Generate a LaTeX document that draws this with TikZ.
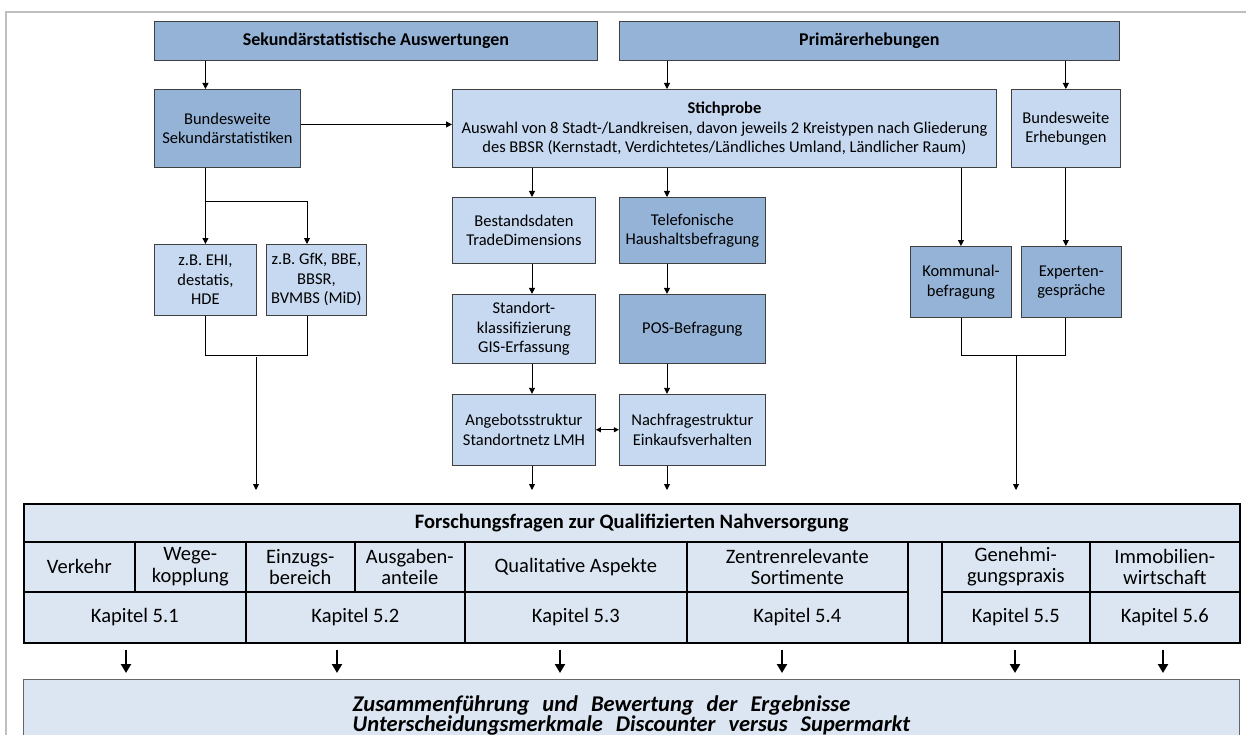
\documentclass[tikz,border=0pt]{standalone}
\usepackage{fontspec}
\setmainfont{Carlito}
\usepackage{xcolor}
\usetikzlibrary{arrows.meta,positioning}

\definecolor{bluedark}{HTML}{95B3D7}
\definecolor{bluelight}{HTML}{C6D9F1}
\definecolor{bluepale}{HTML}{DCE6F2}

\begin{document}
\begin{tikzpicture}[x=1pt, y=-1pt,
  box/.style={rectangle, draw=black!75, line width=0.9pt, anchor=north west, inner sep=1.5pt, align=center, font=\fontsize{16.5}{19.5}\selectfont},
  darkbox/.style={box, fill=bluedark},
  lightbox/.style={box, fill=bluelight},
  head/.style={darkbox, font=\fontsize{18}{21}\selectfont\bfseries},
  cell/.style={rectangle, draw=black, line width=1.6pt, fill=bluepale, anchor=north west, inner sep=1pt, align=center, font=\fontsize{20.5}{21.5}\selectfont},
  arrow/.style={-{Triangle[length=6pt, width=6pt]}, line width=0.9pt, color=black},
  twoway/.style={{Triangle[length=5pt, width=5pt]}-{Triangle[length=5pt, width=5pt]}, line width=0.9pt, color=black},
  link/.style={line width=0.9pt, color=black},
  bigarrow/.style={-{Triangle[length=9pt, width=10pt]}, line width=2.2pt, color=black}
]
\path[use as bounding box, clip] (0,0) rectangle (1246,735);

% Frame
\draw[black!25, line width=1.2pt] (6,740) -- (6,12) -- (1250,12);

% Tier 1: Sources
\node[head, minimum width=443, minimum height=39] (sek) at (154,21) {Sekundärstatistische Auswertungen};
\node[head, minimum width=500, minimum height=39, right=21pt of sek] (prim) {Primärerhebungen};

% Tier 2: Statistics, sample, surveys
\node[darkbox, minimum width=146, minimum height=78] (bsek) at (154,89) {Bundesweite\\Sekundärstatistiken};
\node[lightbox, minimum width=544, minimum height=78] (stich) at (452,89) {\textbf{Stichprobe}\\Auswahl von 8 Stadt-/Landkreisen, davon jeweils 2 Kreistypen nach Gliederung\\des BBSR (Kernstadt, Verdichtetes/Ländliches Umland, Ländlicher Raum)};
\node[lightbox, minimum width=109, minimum height=78, right=14pt of stich] (berh) {Bundesweite\\Erhebungen};

% Left column
\node[lightbox, minimum width=102, minimum height=71] (ehi) at (154,244) {z.B. EHI,\\destatis,\\HDE};
\node[lightbox, minimum width=100, minimum height=71, right=9pt of ehi] (gfk) {z.B. GfK, BBE,\\BBSR,\\BVMBS (MiD)};

% Middle column
\node[lightbox, minimum width=143, minimum height=66] (best) at (452,197) {Bestandsdaten\\TradeDimensions};
\node[darkbox, minimum width=146, minimum height=66, right=23pt of best] (tel) {Telefonische\\Haushaltsbefragung};
\node[lightbox, minimum width=143, minimum height=69, below=30pt of best] (stand) {Standort-\\klassifizierung\\GIS-Erfassung};
\node[darkbox, minimum width=146, minimum height=69, below=30pt of tel] (pos) {POS-Befragung};
\node[lightbox, minimum width=143, minimum height=71, below=30pt of stand] (ang) {Angebotsstruktur\\Standortnetz LMH};
\node[lightbox, minimum width=146, minimum height=71, below=30pt of pos] (nach) {Nachfragestruktur\\Einkaufsverhalten};

% Right column
\node[darkbox, minimum width=101, minimum height=71] (komm) at (910,246) {Kommunal-\\befragung};
\node[darkbox, minimum width=100, minimum height=71, right=9pt of komm] (exp) {Experten-\\gespräche};

% Tier 3: Research questions table
\node[cell, font=\fontsize{20.5}{21.5}\selectfont\bfseries, minimum width=1216, minimum height=38] (forsch) at (23,503) {Forschungsfragen zur Qualifizierten Nahversorgung};
\foreach \xa/\xb/\nm/\txt in {23/134/verk/Verkehr, 134/245/wege/{Wege-\\kopplung}, 245/354/einz/{Einzugs-\\bereich}, 354/464/ausg/{Ausgaben-\\anteile}, 464/686/qual/{Qualitative Aspekte}, 686/907/zent/{Zentrenrelevante\\Sortimente}, 941/1089/gene/{Genehmi-\\gungspraxis}, 1089/1239/immo/{Immobilien-\\wirtschaft}}
  \node[cell, minimum width={\xb-\xa}, minimum height=50] (\nm) at (\xa,541) {\txt};
\foreach \xa/\xb/\nm/\txt in {23/245/kap51/5.1, 245/464/kap52/5.2, 464/686/kap53/5.3, 686/907/kap54/5.4, 941/1089/kap55/5.5, 1089/1239/kap56/5.6}
  \node[cell, minimum width={\xb-\xa}, minimum height=51] (\nm) at (\xa,591) {Kapitel \txt};
\node[cell, minimum width=34, minimum height=101] (leer) at (907,541) {};

% Tier 4: Synthesis
\node[cell, draw=black!60, line width=1pt, align=left, font=\fontsize{22.5}{17.5}\selectfont\bfseries\itshape, minimum width=1216, minimum height=72] (result) at (23,679) {\spaceskip=13pt\relax Zusammenführung und Bewertung der Ergebnisse\\\spaceskip=13pt\relax Unterscheidungsmerkmale Discounter versus Supermarkt};

% Helper columns and junctions
\coordinate (colA) at (532,0);
\coordinate (colB) at (667,0);
\coordinate (colG) at (307,0);
\coordinate (lsplit) at (205,201);
\coordinate (lmid) at (256,357);
\coordinate (rmid) at (1016,356);
\coordinate (tabtop) at ([yshift=13pt]forsch.north);

% Connectors from the sources
\draw[arrow] (sek.south -| ehi.north) -- (bsek.north -| ehi.north);
\draw[arrow] (prim.south -| colB) -- (stich.north -| colB);
\draw[arrow] (prim.south -| berh.south) -- (berh.north);
\draw[arrow] ([yshift=4pt]bsek.east) -- ([yshift=4pt]stich.west);

% Left branch
\draw[arrow] (bsek.south -| ehi.north) -- (ehi.north);
\draw[arrow] (lsplit) -| (gfk.north -| colG);
\draw[link] (ehi.south) -- ++(0,40) -| (gfk.south -| colG);
\draw[arrow] (lmid) -- (tabtop -| lmid);

% Middle branch
\draw[arrow] (stich.south -| colA) -- (best.north -| colA);
\draw[arrow] (stich.south -| colB) -- (tel.north -| colB);
\draw[arrow] (best.south -| colA) -- (stand.north -| colA);
\draw[arrow] (tel.south -| colB) -- (pos.north -| colB);
\draw[arrow] (stand.south -| colA) -- (ang.north -| colA);
\draw[arrow] (pos.south -| colB) -- (nach.north -| colB);
\draw[twoway] (ang.east) -- (nach.west);
\draw[arrow] (ang.south -| colA) -- (tabtop -| colA);
\draw[arrow] (nach.south -| colB) -- (tabtop -| colB);

% Right branch
\draw[arrow] (stich.south -| komm.north) -- (komm.north);
\draw[arrow] (berh.south) -- (exp.north -| berh.south);
\draw[link] (komm.south) -- ++(0,38) -| (exp.south -| berh.south);
\draw[arrow] (rmid) -- (tabtop -| rmid);

% Chapters into synthesis
\coordinate (arrtop) at ([yshift=-6pt]kap51.south);
\coordinate (arrbot) at ([yshift=6pt]result.north);
\foreach \x in {126,337,560,782,1015,1163} {
  \coordinate (c) at (\x,0);
  \draw[bigarrow] (arrtop -| c) -- (arrbot -| c);
}

\end{tikzpicture}
\end{document}
